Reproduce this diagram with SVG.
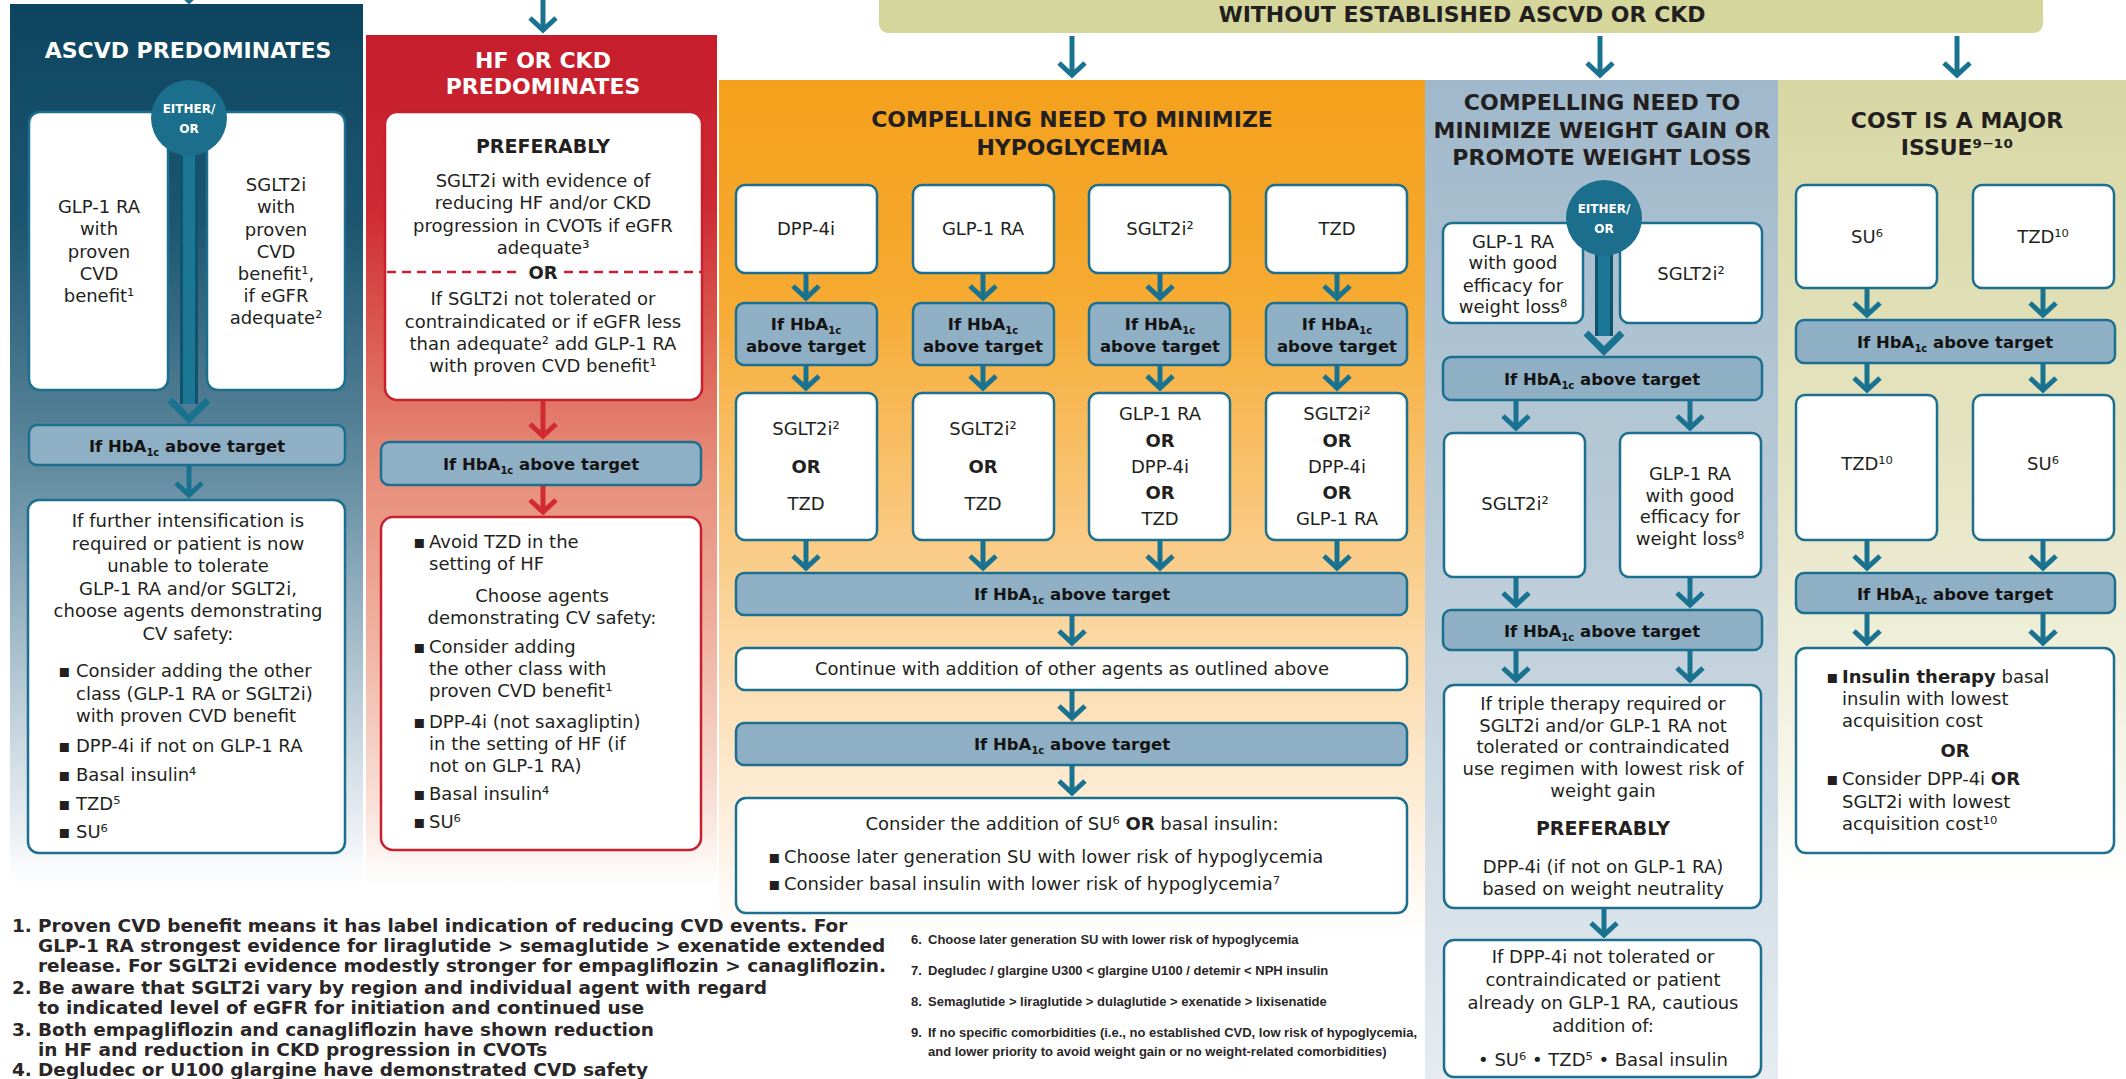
<svg xmlns="http://www.w3.org/2000/svg" width="2126" height="1079" viewBox="0 0 2126 1079">
<defs>
<style>
.ttl{font-family:"DejaVu Sans",sans-serif;font-weight:bold;font-size:22px;text-anchor:middle}
.tw{fill:#ffffff}
.td{fill:#231f20}
.t{font-family:"DejaVu Sans",sans-serif;font-size:18px;fill:#231f20}
.c{text-anchor:middle}
.b{font-weight:bold}
.pref{font-family:"DejaVu Sans",sans-serif;font-weight:bold;font-size:19px;fill:#231f20;text-anchor:middle}
.hb{font-family:"DejaVu Sans",sans-serif;font-weight:bold;font-size:16.5px;fill:#141414;text-anchor:middle}
.sub{font-size:10px}
.eo{font-family:"DejaVu Sans",sans-serif;font-weight:bold;font-size:12px;fill:#ffffff;text-anchor:middle}
.box{fill:#ffffff;stroke:#1c6f8e;stroke-width:2.5}
.rbox{fill:#ffffff;stroke:#c8202f;stroke-width:2.5}
.hbox{fill:#8eafc4;stroke:#1c6f8e;stroke-width:2.5}
.circ{fill:#1b6f8d}
.arr{fill:none;stroke:#1a7291;stroke-width:5;marker-end:url(#ah)}
.rarr{fill:none;stroke:#d12a33;stroke-width:5;marker-end:url(#rah)}
.stemo{fill:none;stroke:#12536c;stroke-width:18}
.stemi{fill:none;stroke:#1c7696;stroke-width:12}
.bigv{fill:none;stroke:#1a7291;stroke-width:7}
.dash{fill:none;stroke:#c8202f;stroke-width:2.5;stroke-dasharray:9 6}
.fn{font-family:"DejaVu Sans",sans-serif;font-weight:bold;font-size:18.5px;fill:#2a2627}
.fs{font-family:"Liberation Sans",sans-serif;font-weight:bold;font-size:13px;fill:#2a2627}
</style>
<marker id="ah" markerUnits="userSpaceOnUse" orient="auto" overflow="visible" markerWidth="30" markerHeight="30" refX="0" refY="0">
<path d="M-12,-13 L0,0 L-12,13" fill="none" stroke="#1a7291" stroke-width="5"/>
</marker>
<marker id="rah" markerUnits="userSpaceOnUse" orient="auto" overflow="visible" markerWidth="30" markerHeight="30" refX="0" refY="0">
<path d="M-12,-13 L0,0 L-12,13" fill="none" stroke="#d12a33" stroke-width="5"/>
</marker>
<linearGradient id="gA" x1="0" y1="0" x2="0" y2="1">
<stop offset="0" stop-color="#0d4560"/><stop offset="0.25" stop-color="#1d5670"/><stop offset="0.47" stop-color="#527f95"/><stop offset="0.57" stop-color="#6f95a9"/><stop offset="0.79" stop-color="#bccdd7"/><stop offset="0.95" stop-color="#eef2f5"/><stop offset="1" stop-color="#ffffff"/>
</linearGradient>
<linearGradient id="gH" x1="0" y1="0" x2="0" y2="1">
<stop offset="0" stop-color="#c61d2c"/><stop offset="0.2" stop-color="#cd2a33"/><stop offset="0.35" stop-color="#da5a4e"/><stop offset="0.5" stop-color="#e68a77"/><stop offset="0.7" stop-color="#efb09e"/><stop offset="0.9" stop-color="#f8dfd6"/><stop offset="1" stop-color="#ffffff"/>
</linearGradient>
<linearGradient id="gO" x1="0" y1="0" x2="0" y2="1">
<stop offset="0" stop-color="#f4a01c"/><stop offset="0.25" stop-color="#f6aa30"/><stop offset="0.5" stop-color="#f9c679"/><stop offset="0.72" stop-color="#fcdfb6"/><stop offset="0.88" stop-color="#fef0e0"/><stop offset="1" stop-color="#ffffff"/>
</linearGradient>
<linearGradient id="gW" x1="0" y1="0" x2="0" y2="1">
<stop offset="0" stop-color="#9fb8cb"/><stop offset="0.5" stop-color="#bccdd9"/><stop offset="1" stop-color="#e6ecf1"/>
</linearGradient>
<linearGradient id="gC" x1="0" y1="0" x2="0" y2="1">
<stop offset="0" stop-color="#d7d7a4"/><stop offset="0.5" stop-color="#e6e5c4"/><stop offset="0.85" stop-color="#f6f5e8"/><stop offset="1" stop-color="#ffffff"/>
</linearGradient>
</defs>
<rect x="0" y="0" width="2126" height="1079" fill="#ffffff"/>

<g id="panels">
<rect x="10" y="4" width="353" height="880" fill="url(#gA)"/>
<rect x="366" y="35" width="351" height="850" fill="url(#gH)"/>
<rect x="719" y="80" width="706" height="855" fill="url(#gO)"/>
<rect x="1425" y="80" width="353" height="999" fill="url(#gW)"/>
<rect x="1778" y="80" width="348" height="800" fill="url(#gC)"/>
</g>

<g id="banner">
<rect x="879" y="-12" width="1164" height="45" rx="9" fill="#d5d69c"/>
<text class="ttl td" x="1462" y="22" font-size="20">WITHOUT ESTABLISHED ASCVD OR CKD</text>
</g>

<g id="connectors">
<path class="arr" d="M189,-20 V1"/>
<path class="arr" d="M543,0 V30"/>
<path class="arr" d="M1072,36 V75"/>
<path class="arr" d="M1600,36 V75"/>
<path class="arr" d="M1957,36 V75"/>
<path class="stemo" d="M189,150 V404"/>
<path class="stemi" d="M189,150 V404"/>
<path class="bigv" d="M170,400 L189,419 L208,400"/>
<path class="arr" d="M189,465 V495"/>
<path class="rarr" d="M543,400 V436"/>
<path class="rarr" d="M543,485 V512"/>
<path class="arr" d="M806,273 V298"/>
<path class="arr" d="M983,273 V298"/>
<path class="arr" d="M1160,273 V298"/>
<path class="arr" d="M1337,273 V298"/>
<path class="arr" d="M806,365 V388"/>
<path class="arr" d="M983,365 V388"/>
<path class="arr" d="M1160,365 V388"/>
<path class="arr" d="M1337,365 V388"/>
<path class="arr" d="M806,540 V568"/>
<path class="arr" d="M983,540 V568"/>
<path class="arr" d="M1160,540 V568"/>
<path class="arr" d="M1337,540 V568"/>
<path class="arr" d="M1072,615 V643"/>
<path class="arr" d="M1072,690 V718"/>
<path class="arr" d="M1072,765 V793"/>
<path class="stemo" d="M1604,250 V336"/>
<path class="stemi" d="M1604,250 V336"/>
<path class="bigv" d="M1586,333 L1604,351 L1622,333"/>
<path class="arr" d="M1516,400 V428"/>
<path class="arr" d="M1690,400 V428"/>
<path class="arr" d="M1516,577 V605"/>
<path class="arr" d="M1690,577 V605"/>
<path class="arr" d="M1516,650 V680"/>
<path class="arr" d="M1690,650 V680"/>
<path class="arr" d="M1604,908 V935"/>
<path class="arr" d="M1867,288 V315"/>
<path class="arr" d="M2043,288 V315"/>
<path class="arr" d="M1867,363 V390"/>
<path class="arr" d="M2043,363 V390"/>
<path class="arr" d="M1867,540 V568"/>
<path class="arr" d="M2043,540 V568"/>
<path class="arr" d="M1867,613 V643"/>
<path class="arr" d="M2043,613 V643"/>
</g>

<!-- ASCVD column -->
<g id="ascvd-title"><text class="ttl tw" x="188" y="58">ASCVD PREDOMINATES</text></g>
<g id="ascvd-glp1">
<rect class="box" x="29" y="112" width="139" height="278" rx="11"/>
<text class="t c" x="99" y="213">GLP-1 RA</text>
<text class="t c" x="99" y="235">with</text>
<text class="t c" x="99" y="258">proven</text>
<text class="t c" x="99" y="280">CVD</text>
<text class="t c" x="99" y="302">benefit¹</text>
</g>
<g id="ascvd-sglt2">
<rect class="box" x="207" y="112" width="138" height="278" rx="11"/>
<text class="t c" x="276" y="191">SGLT2i</text>
<text class="t c" x="276" y="213">with</text>
<text class="t c" x="276" y="236">proven</text>
<text class="t c" x="276" y="258">CVD</text>
<text class="t c" x="276" y="280">benefit¹,</text>
<text class="t c" x="276" y="302">if eGFR</text>
<text class="t c" x="276" y="324">adequate²</text>
</g>
<g id="ascvd-either">
<circle class="circ" cx="189" cy="118" r="38"/>
<text class="eo" x="189" y="113">EITHER/</text>
<text class="eo" x="189" y="133">OR</text>
</g>
<g id="ascvd-hba1c">
<rect class="hbox" x="29" y="425" width="316" height="40" rx="8"/>
<text class="hb" x="187" y="452">If HbA<tspan class="sub" dy="4">1c</tspan><tspan dy="-4"> above target</tspan></text>
</g>
<g id="ascvd-next">
<rect class="box" x="28" y="500" width="317" height="353" rx="11"/>
<text class="t c" x="188" y="527">If further intensification is</text>
<text class="t c" x="188" y="550">required or patient is now</text>
<text class="t c" x="188" y="572">unable to tolerate</text>
<text class="t c" x="188" y="595">GLP-1 RA and/or SGLT2i,</text>
<text class="t c" x="188" y="617">choose agents demonstrating</text>
<text class="t c" x="188" y="640">CV safety:</text>
<text class="t" x="58" y="677">▪</text><text class="t" x="76" y="677">Consider adding the other</text>
<text class="t" x="76" y="700">class (GLP-1 RA or SGLT2i)</text>
<text class="t" x="76" y="722">with proven CVD benefit</text>
<text class="t" x="58" y="752">▪</text><text class="t" x="76" y="752">DPP-4i if not on GLP-1 RA</text>
<text class="t" x="58" y="781">▪</text><text class="t" x="76" y="781">Basal insulin⁴</text>
<text class="t" x="58" y="810">▪</text><text class="t" x="76" y="810">TZD⁵</text>
<text class="t" x="58" y="838">▪</text><text class="t" x="76" y="838">SU⁶</text>
</g>

<!-- HF column -->
<g id="hf-title">
<text class="ttl tw" x="543" y="68">HF OR CKD</text>
<text class="ttl tw" x="543" y="94">PREDOMINATES</text>
</g>
<g id="hf-pref">
<rect class="rbox" x="385" y="112" width="317" height="288" rx="12"/>
<text class="pref" x="543" y="153">PREFERABLY</text>
<text class="t c" x="543" y="187">SGLT2i with evidence of</text>
<text class="t c" x="543" y="209">reducing HF and/or CKD</text>
<text class="t c" x="543" y="232">progression in CVOTs if eGFR</text>
<text class="t c" x="543" y="254">adequate³</text>
<path class="dash" d="M387,272 H522 M564,272 H701"/>
<text class="t c b" x="543" y="279">OR</text>
<text class="t c" x="543" y="305">If SGLT2i not tolerated or</text>
<text class="t c" x="543" y="328">contraindicated or if eGFR less</text>
<text class="t c" x="543" y="350">than adequate² add GLP-1 RA</text>
<text class="t c" x="543" y="372">with proven CVD benefit¹</text>
</g>
<g id="hf-hba1c">
<rect class="hbox" x="381" y="442" width="320" height="43" rx="8"/>
<text class="hb" x="541" y="470">If HbA<tspan class="sub" dy="4">1c</tspan><tspan dy="-4"> above target</tspan></text>
</g>
<g id="hf-next">
<rect class="rbox" x="381" y="517" width="320" height="333" rx="12"/>
<text class="t" x="413" y="548">▪</text><text class="t" x="429" y="548">Avoid TZD in the</text>
<text class="t" x="429" y="570">setting of HF</text>
<text class="t c" x="542" y="602">Choose agents</text>
<text class="t c" x="542" y="624">demonstrating CV safety:</text>
<text class="t" x="413" y="653">▪</text><text class="t" x="429" y="653">Consider adding</text>
<text class="t" x="429" y="675">the other class with</text>
<text class="t" x="429" y="697">proven CVD benefit¹</text>
<text class="t" x="413" y="728">▪</text><text class="t" x="429" y="728">DPP-4i (not saxagliptin)</text>
<text class="t" x="429" y="750">in the setting of HF (if</text>
<text class="t" x="429" y="772">not on GLP-1 RA)</text>
<text class="t" x="413" y="800">▪</text><text class="t" x="429" y="800">Basal insulin⁴</text>
<text class="t" x="413" y="828">▪</text><text class="t" x="429" y="828">SU⁶</text>
</g>

<!-- Hypoglycemia column -->
<g id="hypo-title">
<text class="ttl td" x="1072" y="127">COMPELLING NEED TO MINIMIZE</text>
<text class="ttl td" x="1072" y="155">HYPOGLYCEMIA</text>
</g>
<g id="hypo-dpp4"><rect class="box" x="736" y="185" width="141" height="88" rx="9"/><text class="t c" x="806" y="235">DPP-4i</text></g>
<g id="hypo-glp1"><rect class="box" x="913" y="185" width="141" height="88" rx="9"/><text class="t c" x="983" y="235">GLP-1 RA</text></g>
<g id="hypo-sglt2"><rect class="box" x="1089" y="185" width="141" height="88" rx="9"/><text class="t c" x="1160" y="235">SGLT2i²</text></g>
<g id="hypo-tzd"><rect class="box" x="1266" y="185" width="141" height="88" rx="9"/><text class="t c" x="1337" y="235">TZD</text></g>
<g id="hypo-h1"><rect class="hbox" x="736" y="303" width="141" height="62" rx="8"/><text class="hb" x="806" y="330">If HbA<tspan class="sub" dy="4">1c</tspan></text><text class="hb" x="806" y="352">above target</text></g>
<g id="hypo-h2"><rect class="hbox" x="913" y="303" width="141" height="62" rx="8"/><text class="hb" x="983" y="330">If HbA<tspan class="sub" dy="4">1c</tspan></text><text class="hb" x="983" y="352">above target</text></g>
<g id="hypo-h3"><rect class="hbox" x="1089" y="303" width="141" height="62" rx="8"/><text class="hb" x="1160" y="330">If HbA<tspan class="sub" dy="4">1c</tspan></text><text class="hb" x="1160" y="352">above target</text></g>
<g id="hypo-h4"><rect class="hbox" x="1266" y="303" width="141" height="62" rx="8"/><text class="hb" x="1337" y="330">If HbA<tspan class="sub" dy="4">1c</tspan></text><text class="hb" x="1337" y="352">above target</text></g>
<g id="hypo-r1"><rect class="box" x="736" y="393" width="141" height="147" rx="9"/>
<text class="t c" x="806" y="435">SGLT2i²</text><text class="t c b" x="806" y="473">OR</text><text class="t c" x="806" y="510">TZD</text></g>
<g id="hypo-r2"><rect class="box" x="913" y="393" width="141" height="147" rx="9"/>
<text class="t c" x="983" y="435">SGLT2i²</text><text class="t c b" x="983" y="473">OR</text><text class="t c" x="983" y="510">TZD</text></g>
<g id="hypo-r3"><rect class="box" x="1089" y="393" width="141" height="147" rx="9"/>
<text class="t c" x="1160" y="420">GLP-1 RA</text><text class="t c b" x="1160" y="447">OR</text><text class="t c" x="1160" y="473">DPP-4i</text><text class="t c b" x="1160" y="499">OR</text><text class="t c" x="1160" y="525">TZD</text></g>
<g id="hypo-r4"><rect class="box" x="1266" y="393" width="141" height="147" rx="9"/>
<text class="t c" x="1337" y="420">SGLT2i²</text><text class="t c b" x="1337" y="447">OR</text><text class="t c" x="1337" y="473">DPP-4i</text><text class="t c b" x="1337" y="499">OR</text><text class="t c" x="1337" y="525">GLP-1 RA</text></g>
<g id="hypo-h5"><rect class="hbox" x="736" y="573" width="671" height="42" rx="8"/><text class="hb" x="1072" y="600">If HbA<tspan class="sub" dy="4">1c</tspan><tspan dy="-4"> above target</tspan></text></g>
<g id="hypo-continue"><rect class="box" x="736" y="648" width="671" height="42" rx="9"/><text class="t c" x="1072" y="675">Continue with addition of other agents as outlined above</text></g>
<g id="hypo-h6"><rect class="hbox" x="736" y="723" width="671" height="42" rx="8"/><text class="hb" x="1072" y="750">If HbA<tspan class="sub" dy="4">1c</tspan><tspan dy="-4"> above target</tspan></text></g>
<g id="hypo-final"><rect class="box" x="736" y="798" width="671" height="115" rx="10"/>
<text class="t c" x="1072" y="830">Consider the addition of SU⁶ <tspan class="b">OR</tspan> basal insulin:</text>
<text class="t" x="768" y="863">▪</text><text class="t" x="784" y="863">Choose later generation SU with lower risk of hypoglycemia</text>
<text class="t" x="768" y="890">▪</text><text class="t" x="784" y="890">Consider basal insulin with lower risk of hypoglycemia⁷</text>
</g>

<!-- Weight column -->
<g id="wt-title">
<text class="ttl td" x="1602" y="110" font-size="21">COMPELLING NEED TO</text>
<text class="ttl td" x="1602" y="138" font-size="21">MINIMIZE WEIGHT GAIN OR</text>
<text class="ttl td" x="1602" y="165" font-size="21">PROMOTE WEIGHT LOSS</text>
</g>
<g id="wt-glp1"><rect class="box" x="1443" y="223" width="140" height="100" rx="9"/>
<text class="t c" x="1513" y="248">GLP-1 RA</text><text class="t c" x="1513" y="269">with good</text><text class="t c" x="1513" y="292">efficacy for</text><text class="t c" x="1513" y="313">weight loss⁸</text></g>
<g id="wt-sglt2"><rect class="box" x="1620" y="223" width="142" height="100" rx="9"/><text class="t c" x="1691" y="280">SGLT2i²</text></g>
<g id="wt-either"><circle class="circ" cx="1604" cy="218" r="38"/><text class="eo" x="1604" y="213">EITHER/</text><text class="eo" x="1604" y="233">OR</text></g>
<g id="wt-h1"><rect class="hbox" x="1443" y="357" width="319" height="43" rx="8"/><text class="hb" x="1602" y="385">If HbA<tspan class="sub" dy="4">1c</tspan><tspan dy="-4"> above target</tspan></text></g>
<g id="wt-sglt2b"><rect class="box" x="1444" y="433" width="141" height="144" rx="9"/><text class="t c" x="1515" y="510">SGLT2i²</text></g>
<g id="wt-glp1b"><rect class="box" x="1620" y="433" width="141" height="144" rx="9"/>
<text class="t c" x="1690" y="480">GLP-1 RA</text><text class="t c" x="1690" y="502">with good</text><text class="t c" x="1690" y="523">efficacy for</text><text class="t c" x="1690" y="545">weight loss⁸</text></g>
<g id="wt-h2"><rect class="hbox" x="1443" y="610" width="319" height="40" rx="8"/><text class="hb" x="1602" y="637">If HbA<tspan class="sub" dy="4">1c</tspan><tspan dy="-4"> above target</tspan></text></g>
<g id="wt-triple"><rect class="box" x="1444" y="685" width="317" height="223" rx="10"/>
<text class="t c" x="1603" y="710">If triple therapy required or</text>
<text class="t c" x="1603" y="732">SGLT2i and/or GLP-1 RA not</text>
<text class="t c" x="1603" y="753">tolerated or contraindicated</text>
<text class="t c" x="1603" y="775">use regimen with lowest risk of</text>
<text class="t c" x="1603" y="797">weight gain</text>
<text class="pref" x="1603" y="835">PREFERABLY</text>
<text class="t c" x="1603" y="873">DPP-4i (if not on GLP-1 RA)</text>
<text class="t c" x="1603" y="895">based on weight neutrality</text>
</g>
<g id="wt-last"><rect class="box" x="1444" y="940" width="317" height="137" rx="10"/>
<text class="t c" x="1603" y="963">If DPP-4i not tolerated or</text>
<text class="t c" x="1603" y="986">contraindicated or patient</text>
<text class="t c" x="1603" y="1009">already on GLP-1 RA, cautious</text>
<text class="t c" x="1603" y="1032">addition of:</text>
<text class="t c" x="1603" y="1066">• SU⁶  • TZD⁵  • Basal insulin</text>
</g>

<!-- Cost column -->
<g id="cost-title">
<text class="ttl td" x="1957" y="128">COST IS A MAJOR</text>
<text class="ttl td" x="1957" y="155">ISSUE⁹⁻¹⁰</text>
</g>
<g id="cost-su"><rect class="box" x="1796" y="185" width="141" height="103" rx="9"/><text class="t c" x="1867" y="243">SU⁶</text></g>
<g id="cost-tzd"><rect class="box" x="1973" y="185" width="141" height="103" rx="9"/><text class="t c" x="2043" y="243">TZD¹⁰</text></g>
<g id="cost-h1"><rect class="hbox" x="1796" y="320" width="319" height="43" rx="8"/><text class="hb" x="1955" y="348">If HbA<tspan class="sub" dy="4">1c</tspan><tspan dy="-4"> above target</tspan></text></g>
<g id="cost-tzd2"><rect class="box" x="1796" y="395" width="141" height="145" rx="9"/><text class="t c" x="1867" y="470">TZD¹⁰</text></g>
<g id="cost-su2"><rect class="box" x="1973" y="395" width="141" height="145" rx="9"/><text class="t c" x="2043" y="470">SU⁶</text></g>
<g id="cost-h2"><rect class="hbox" x="1796" y="573" width="319" height="40" rx="8"/><text class="hb" x="1955" y="600">If HbA<tspan class="sub" dy="4">1c</tspan><tspan dy="-4"> above target</tspan></text></g>
<g id="cost-final"><rect class="box" x="1796" y="648" width="318" height="205" rx="10"/>
<text class="t" x="1826" y="683">▪</text><text class="t" x="1842" y="683"><tspan class="b">Insulin therapy</tspan> basal</text>
<text class="t" x="1842" y="705">insulin with lowest</text>
<text class="t" x="1842" y="727">acquisition cost</text>
<text class="t c b" x="1955" y="757">OR</text>
<text class="t" x="1826" y="785">▪</text><text class="t" x="1842" y="785">Consider DPP-4i <tspan class="b">OR</tspan></text>
<text class="t" x="1842" y="808">SGLT2i with lowest</text>
<text class="t" x="1842" y="830">acquisition cost¹⁰</text>
</g>

<g id="footnotes">
<text class="fn" x="12" y="932">1.</text><text class="fn" x="38" y="932">Proven CVD benefit means it has label indication of reducing CVD events. For</text>
<text class="fn" x="38" y="952">GLP-1 RA strongest evidence for liraglutide &gt; semaglutide &gt; exenatide extended</text>
<text class="fn" x="38" y="972">release. For SGLT2i evidence modestly stronger for empagliflozin &gt; canagliflozin.</text>
<text class="fn" x="12" y="994">2.</text><text class="fn" x="38" y="994">Be aware that SGLT2i vary by region and individual agent with regard</text>
<text class="fn" x="38" y="1014">to indicated level of eGFR for initiation and continued use</text>
<text class="fn" x="12" y="1036">3.</text><text class="fn" x="38" y="1036">Both empagliflozin and canagliflozin have shown reduction</text>
<text class="fn" x="38" y="1056">in HF and reduction in CKD progression in CVOTs</text>
<text class="fn" x="12" y="1076">4.</text><text class="fn" x="38" y="1076">Degludec or U100 glargine have demonstrated CVD safety</text>
<text class="fs" x="911" y="944">6.</text><text class="fs" x="928" y="944">Choose later generation SU with lower risk of hypoglycemia</text>
<text class="fs" x="911" y="975">7.</text><text class="fs" x="928" y="975">Degludec / glargine U300 &lt; glargine U100 / detemir &lt; NPH insulin</text>
<text class="fs" x="911" y="1006">8.</text><text class="fs" x="928" y="1006">Semaglutide &gt; liraglutide &gt; dulaglutide &gt; exenatide &gt; lixisenatide</text>
<text class="fs" x="911" y="1037">9.</text><text class="fs" x="928" y="1037">If no specific comorbidities (i.e., no established CVD, low risk of hypoglycemia,</text>
<text class="fs" x="928" y="1056">and lower priority to avoid weight gain or no weight-related comorbidities)</text>
</g>
</svg>
